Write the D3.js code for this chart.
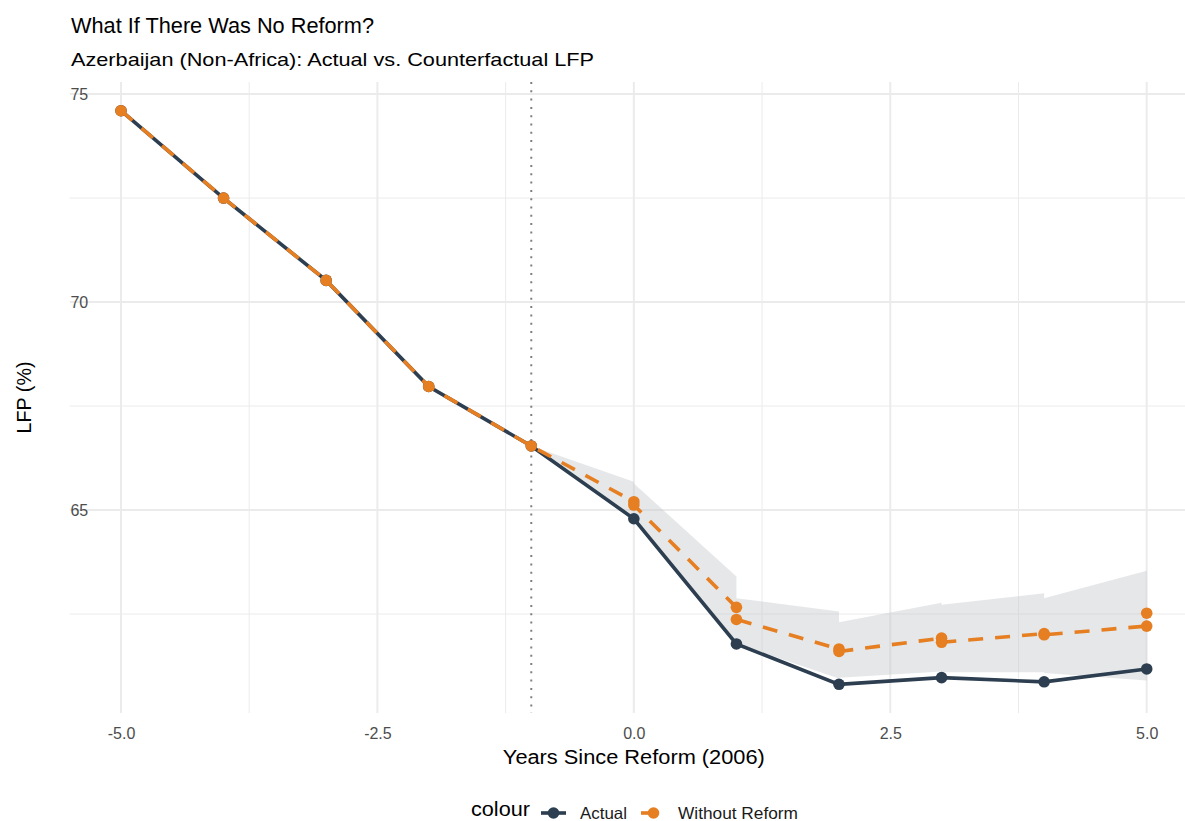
<!DOCTYPE html>
<html>
<head>
<meta charset="utf-8">
<script src="https://cdn.jsdelivr.net/npm/d3@7"></script>
<style>
  body { margin: 0; background: #fff; }
  text { font-family: "Liberation Sans", Arial, sans-serif; }
</style>
</head>
<body>
<div id="lineChart"></div>
<script>

// Actual series
var years = [-5, -4, -3, -2, -1, 0, 1, 2, 3, 4, 5];
var actualLfp = [74.6, 72.5, 70.52, 67.97, 66.54, 64.79, 61.78, 60.81, 60.97, 60.87, 61.18];

// Counterfactual (two estimates per year after the reform)
var cfYears = [-5, -4, -3, -2, -1, 0, 0, 1, 1, 2, 2, 3, 3, 4, 4, 5, 5];
var cfLfp = [74.6, 72.5, 70.52, 67.97, 66.54, 65.2, 65.12, 62.66, 62.37, 61.66, 61.6, 61.92, 61.82, 62.03, 62.0, 62.21, 62.52];

// Confidence band
var bandYears = [-1, 0, 0, 1, 1, 2, 2, 3, 3, 4, 4, 5, 5];
var bandLow = [66.54, 64.78, 64.75, 61.8, 61.78, 60.95, 60.97, 61.12, 61.1, 61.1, 61.08, 60.9, 60.87];
var bandHigh = [66.54, 65.68, 65.64, 63.4, 62.88, 62.56, 62.3, 62.77, 62.72, 63.0, 62.88, 63.54, 63.3];

var xTicks = [-5, -2.5, 0, 2.5, 5];
var xMinor = [-3.75, -1.25, 1.25, 3.75];
var yTicks = [65, 70, 75];
var yMinor = [62.5, 67.5, 72.5];
var reformYear = -1;

var seriesNames = ["Actual", "Without Reform"];

var W = 1185, H = 821;
var panel = { left: 69.7, right: 1198, top: 82, bottom: 713 };

var colActual = "#2c3e50",
    colCf = "#e67e22";

var actualData = years.map(function(d, i) { return { x: d, y: actualLfp[i] }; });
var cfData = cfYears.map(function(d, i) { return { x: d, y: cfLfp[i] }; });
var bandData = bandYears.map(function(d, i) { return { x: d, lo: bandLow[i], hi: bandHigh[i] }; });

// stretch a text to a given width (reference glyphs run a little wide)
function fit(sel, w) {
    return sel.attr("textLength", w).attr("lengthAdjust", "spacingAndGlyphs");
}

var svg = d3.select("#lineChart").append("svg")
    .attr("width", W)
    .attr("height", H);

// Domain and ranges
var xscale = d3.scaleLinear()
    .domain([-5.5, 5.5])
    .range([panel.left, panel.right]);

var allY = actualLfp.concat(cfLfp, bandLow, bandHigh);
var yMin = d3.min(allY), yMax = d3.max(allY);
var yPad = (yMax - yMin) * 0.05;
var yscale = d3.scaleLinear()
    .domain([yMin - yPad, yMax + yPad])
    .range([panel.bottom, panel.top]);

// Grid
var grid = svg.append("g");

grid.selectAll(".ymin").data(yMinor).enter().append("line")
    .attr("x1", panel.left).attr("x2", panel.right)
    .attr("y1", function(d) { return yscale(d); })
    .attr("y2", function(d) { return yscale(d); })
    .attr("stroke", "#ebebeb").attr("stroke-width", 1);

grid.selectAll(".xmin").data(xMinor).enter().append("line")
    .attr("y1", panel.top).attr("y2", panel.bottom)
    .attr("x1", function(d) { return xscale(d); })
    .attr("x2", function(d) { return xscale(d); })
    .attr("stroke", "#ebebeb").attr("stroke-width", 1);

grid.selectAll(".ymaj").data(yTicks).enter().append("line")
    .attr("x1", panel.left).attr("x2", panel.right)
    .attr("y1", function(d) { return yscale(d); })
    .attr("y2", function(d) { return yscale(d); })
    .attr("stroke", "#ebebeb").attr("stroke-width", 2);

grid.selectAll(".xmaj").data(xTicks).enter().append("line")
    .attr("y1", panel.top).attr("y2", panel.bottom)
    .attr("x1", function(d) { return xscale(d); })
    .attr("x2", function(d) { return xscale(d); })
    .attr("stroke", "#ebebeb").attr("stroke-width", 2);

// Band
var band = d3.area()
    .x(function(d) { return xscale(d.x); })
    .y0(function(d) { return yscale(d.lo); })
    .y1(function(d) { return yscale(d.hi); });

svg.append("path")
    .attr("d", band(bandData))
    .attr("fill", "#bdc3c7")
    .attr("fill-opacity", 0.4);

// Reform marker
svg.append("line")
    .attr("x1", xscale(reformYear)).attr("x2", xscale(reformYear))
    .attr("y1", panel.top).attr("y2", panel.bottom)
    .attr("stroke", "#808080")
    .attr("stroke-width", 2)
    .attr("stroke-dasharray", "2,6.3");

// Lines
var line = d3.line()
    .x(function(d) { return xscale(d.x); })
    .y(function(d) { return yscale(d.y); });

svg.append("path")
    .attr("d", line(actualData))
    .attr("stroke", colActual)
    .attr("stroke-width", 3.6)
    .attr("fill", "none");

svg.selectAll(".pa").data(actualData).enter().append("circle")
    .attr("cx", function(d) { return xscale(d.x); })
    .attr("cy", function(d) { return yscale(d.y); })
    .attr("r", 5.8)
    .attr("fill", colActual);

svg.append("path")
    .attr("d", line(cfData))
    .attr("stroke", colCf)
    .attr("stroke-width", 3.6)
    .attr("stroke-dasharray", "15,12")
    .attr("fill", "none");

svg.selectAll(".pc").data(cfData).enter().append("circle")
    .attr("cx", function(d) { return xscale(d.x); })
    .attr("cy", function(d) { return yscale(d.y); })
    .attr("r", 5.8)
    .attr("fill", colCf);

// Axes labels
svg.append("g")
    .attr("transform", "translate(0," + (panel.bottom + 25.5) + ")")
    .call(d3.axisBottom(xscale).tickValues(xTicks)
        .tickFormat(function(d) { return d.toFixed(1); })
        .tickSize(0).tickPadding(0))
    .call(function(g) {
        g.select(".domain").remove();
        g.selectAll("text")
            .attr("dy", 0)
            .attr("fill", "#4d4d4d")
            .style("font-size", "16px")
            .style("font-family", "'Liberation Sans', Arial, sans-serif");
    });

svg.append("g")
    .attr("transform", "translate(" + (panel.left + 18.5) + ",0)")
    .call(d3.axisLeft(yscale).tickValues(yTicks).tickSize(0).tickPadding(0))
    .call(function(g) {
        g.select(".domain").remove();
        g.selectAll("text")
            .attr("dy", "0.35em")
            .attr("fill", "#4d4d4d")
            .style("font-size", "16px")
            .style("font-family", "'Liberation Sans', Arial, sans-serif");
    });

fit(svg.append("text")
    .attr("x", (xscale(-5) + xscale(5)) / 2)
    .attr("y", 764)
    .attr("text-anchor", "middle")
    .style("font-size", "19.5px")
    .text("Years Since Reform (2006)"), 262);

fit(svg.append("text")
    .attr("transform", "translate(31," + ((panel.top + panel.bottom) / 2) + ") rotate(-90)")
    .attr("text-anchor", "middle")
    .style("font-size", "19.5px")
    .text("LFP (%)"), 72);

// Titles
fit(svg.append("text")
    .attr("x", 71).attr("y", 33)
    .style("font-size", "22px")
    .text("What If There Was No Reform?"), 303);

fit(svg.append("text")
    .attr("x", 71).attr("y", 66)
    .style("font-size", "19px")
    .text("Azerbaijan (Non-Africa): Actual vs. Counterfactual LFP"), 523);

// Legend
var legend = svg.append("g").attr("transform", "translate(0,813)");

fit(legend.append("text")
    .attr("x", 471).attr("y", 3)
    .style("font-size", "20px")
    .text("colour"), 59);

var keyX = [541, 641];
var keyCol = [colActual, colCf];
var keyDash = [null, "15,12"];
var labelX = [580, 678];
var labelW = [47, 120];

seriesNames.forEach(function(name, i) {
    legend.append("line")
        .attr("x1", keyX[i]).attr("x2", keyX[i] + 25)
        .attr("y1", 0).attr("y2", 0)
        .attr("stroke", keyCol[i])
        .attr("stroke-width", 3.6)
        .attr("stroke-dasharray", keyDash[i]);
    legend.append("circle")
        .attr("cx", keyX[i] + 12.5).attr("cy", 0)
        .attr("r", 5.8)
        .attr("fill", keyCol[i]);
    fit(legend.append("text")
        .attr("x", labelX[i]).attr("y", 5.5)
        .style("font-size", "16.5px")
        .attr("fill", "#1a1a1a")
        .text(name), labelW[i]);
});

</script>
</body>
</html>
